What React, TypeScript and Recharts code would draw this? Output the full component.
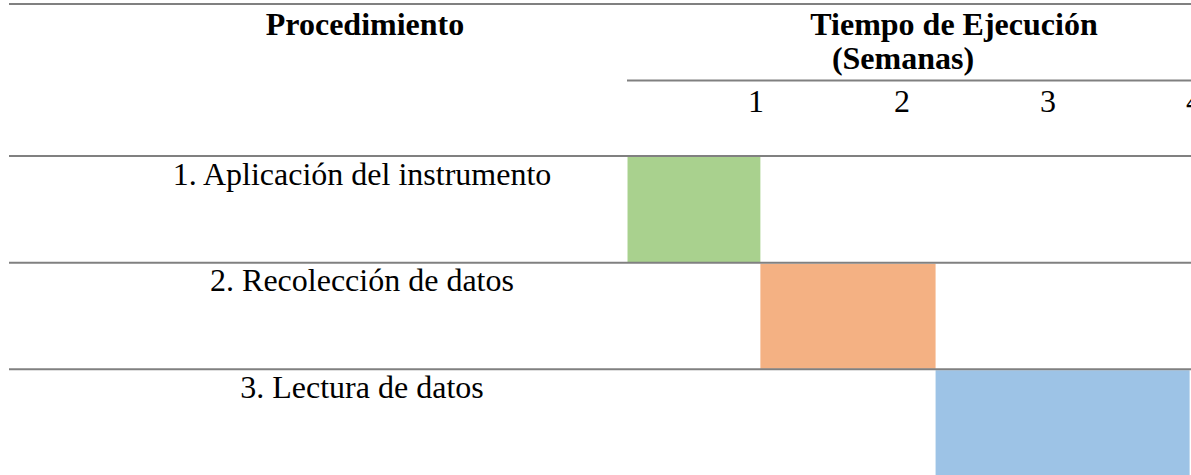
import React from 'react';
import { BarChart, Bar, XAxis, YAxis, Cell } from 'recharts';

// ---- data ----
const tasks = ['1. Aplicación del instrumento', '2. Recolección de datos', '3. Lectura de datos'];
const taskStart = [0.12, 1.03, 2.23];
const taskEnd = [1.03, 2.23, 3.97];
const taskColors = ['#A9D18E', '#F4B183', '#9DC3E6'];
const weekTicks = [1, 2, 3, 4];
const headerLeft = 'Procedimiento';
const headerRight = 'Tiempo de Ejecución';
const headerRightSub = '(Semanas)';

const data = tasks.map((t, i) => ({ task: t, range: [taskStart[i], taskEnd[i]] }));

const FONT = '"Liberation Serif", "Times New Roman", serif';
const LINE = '#808080';
const CHART_W = 1267;
const CHART_H = 476;

const WeekTick = (props: any) => {
  const { x, payload } = props;
  return (
    <text x={x} y={112} textAnchor="middle" fontFamily={FONT} fontSize={32} fill="#000">
      {payload.value}
    </text>
  );
};

const TaskTick = (props: any) => {
  const { y, payload } = props;
  const half = payload && typeof payload.offset === 'number' && payload.offset > 0 ? payload.offset : 53.33;
  const top = y - half;
  return (
    <g>
      <line x1={9} x2={CHART_W} y1={top} y2={top} stroke={LINE} strokeWidth={2} />
      <text x={362} y={top + 28.5} textAnchor="middle" fontFamily={FONT} fontSize={32} fill="#000">
        {payload.value}
      </text>
    </g>
  );
};

export default function App() {
  return (
    <div
      style={{
        position: 'fixed',
        left: 0,
        top: 0,
        width: 1191,
        height: 475,
        overflow: 'hidden',
        background: '#fff',
      }}
    >
      <div style={{ position: 'absolute', left: 0, top: 0 }}>
        <BarChart
          width={CHART_W}
          height={CHART_H}
          data={data}
          layout="vertical"
          margin={{ top: 0, right: 0, bottom: 0, left: 0 }}
          barCategoryGap={1}
        >
          <XAxis
            type="number"
            orientation="top"
            domain={[0, 4.5]}
            ticks={weekTicks}
            interval={0}
            height={156}
            axisLine={false}
            tickLine={false}
            tick={<WeekTick />}
            allowDataOverflow
          />
          <YAxis
            type="category"
            dataKey="task"
            width={610}
            interval={0}
            axisLine={false}
            tickLine={false}
            tick={<TaskTick />}
          />
          <Bar dataKey="range" isAnimationActive={false}>
            {data.map((d, i) => (
              <Cell key={d.task} fill={taskColors[i]} />
            ))}
          </Bar>
        </BarChart>
      </div>
      <svg
        width={1191}
        height={475}
        style={{ position: 'absolute', left: 0, top: 0, pointerEvents: 'none' }}
      >
        <line x1={9} x2={1191} y1={4} y2={4} stroke={LINE} strokeWidth={2} />
        <line x1={627} x2={1191} y1={80.5} y2={80.5} stroke={LINE} strokeWidth={2} />
        <text x={365} y={35} textAnchor="middle" fontFamily={FONT} fontSize={32} fontWeight="bold" fill="#000">
          {headerLeft}
        </text>
        <text x={954} y={35} textAnchor="middle" fontFamily={FONT} fontSize={32} fontWeight="bold" fill="#000">
          {headerRight}
        </text>
        <text x={903} y={69} textAnchor="middle" fontFamily={FONT} fontSize={32} fontWeight="bold" fill="#000">
          {headerRightSub}
        </text>
      </svg>
    </div>
  );
}
